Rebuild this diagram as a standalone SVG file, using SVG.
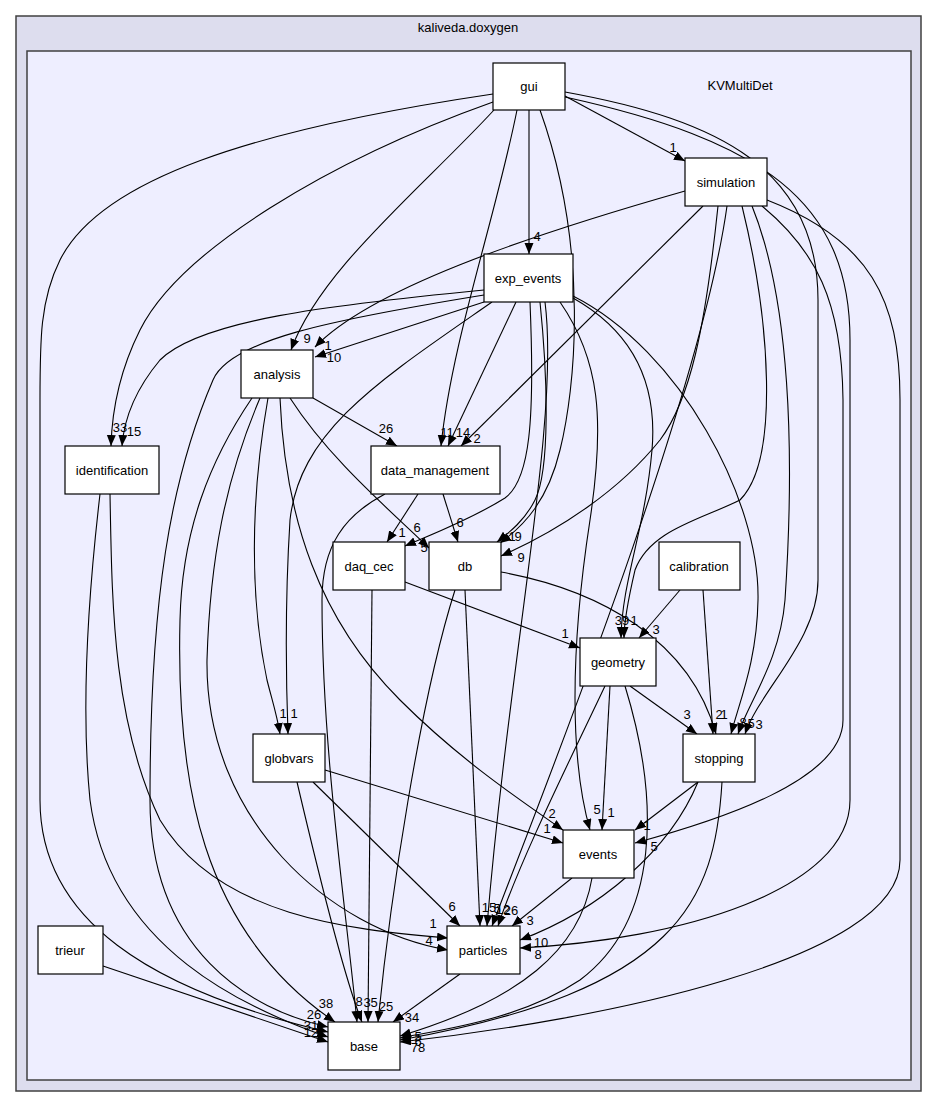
<svg xmlns="http://www.w3.org/2000/svg" width="939" height="1108" viewBox="0 0 939 1108">
<style>
.cl{stroke:#404040;stroke-width:1.5}
.n rect{fill:#fff;stroke:#000;stroke-width:1.2}
.n text,.t{font-family:"Liberation Sans",Arial,sans-serif;font-size:13px;fill:#000;text-anchor:middle}
.e path{fill:none;stroke:#000;stroke-width:1.1;marker-end:url(#a)}
.e text{font-family:"Liberation Sans",Arial,sans-serif;font-size:13px;fill:#000;text-anchor:middle}
</style>
<defs>
<marker id="a" markerUnits="userSpaceOnUse" markerWidth="12" markerHeight="10" refX="11" refY="4.5" orient="auto"><path d="M0,0 L11,4.5 L0,9 z" fill="#000"/></marker>
</defs>
<rect x="0" y="0" width="939" height="1108" fill="#fff"/>
<g id="cluster_kaliveda">
<rect class="cl" x="16" y="16" width="905" height="1075" fill="#ddddee"/>
<text class="t" x="468" y="32">kaliveda.doxygen</text>
</g>
<g id="cluster_KVMultiDet">
<rect class="cl" x="27" y="51" width="884" height="1029" fill="#eeeeff"/>
<text class="t" x="740" y="90">KVMultiDet</text>
</g>
<g id="edges" class="e">
<path d="M565,96 L685,161"/><text x="673" y="152">1</text>
<path d="M529,110 L529,254"/><text x="537" y="241">4</text>
<path d="M494,110 C420,190 320,270 291,350"/><text x="307" y="343">9</text>
<path d="M685,191 C520,238 370,290 315,347"/><text x="328" y="350">1</text>
<path d="M484,302 L315,357"/><text x="334" y="362">10</text>
<path d="M493,102 C330,160 180,250 140,330 C120,370 112,410 111,446"/><text x="120" y="432">33</text>
<path d="M484,290 C330,305 200,320 160,360 C135,390 124,420 122,446"/><text x="134" y="436">15</text>
<path d="M313,398 L397,446"/><text x="386" y="433">26</text>
<path d="M517,110 C495,220 452,340 441,446"/><text x="447" y="437">11</text>
<path d="M516,302 L448,446"/><text x="463" y="437">14</text>
<path d="M703,206 L461,446"/><text x="477" y="443">2</text>
<path d="M418,494 L387,542"/><text x="402" y="537">1</text>
<path d="M530,302 C535,420 530,480 505,498 C470,520 430,535 405,546"/><text x="417" y="532">6</text>
<path d="M290,398 C330,460 390,510 429,548"/><text x="424" y="552">5</text>
<path d="M443,494 L458,542"/><text x="460" y="527">6</text>
<path d="M540,110 C590,250 575,390 560,450 C548,500 525,525 500,543"/><text x="512" y="541">1</text>
<path d="M540,302 C548,380 550,470 535,500 C525,520 510,532 497,542"/><text x="518" y="541">9</text>
<path d="M718,206 C705,330 690,400 660,440 C620,490 560,530 501,556"/><text x="521" y="562">9</text>
<path d="M405,582 L580,648"/><text x="565" y="638">1</text>
<path d="M680,590 L639,638"/><text x="656" y="634">3</text>
<path d="M742,206 C770,320 780,460 740,500 C700,520 650,530 635,570 C628,600 624,620 624,638"/><text x="634" y="625">1</text>
<path d="M573,298 C630,330 658,380 652,450 C645,530 622,580 621,638"/><text x="622" y="625">39</text>
<path d="M560,302 C600,360 605,420 590,520 C570,650 570,760 590,830"/><text x="597" y="814">5</text>
<path d="M727,206 C700,400 540,800 492,926"/>
<path d="M545,302 C560,420 510,650 487,926"/>
<path d="M630,686 L697,734"/><text x="687" y="719">3</text>
<path d="M703,590 L713,734"/><text x="719" y="719">2</text>
<path d="M501,572 C600,590 690,640 716,734"/><text x="724" y="719">1</text>
<path d="M573,296 C680,350 760,500 758,600 C757,660 740,700 731,734"/><text x="743" y="727">8</text>
<path d="M752,206 C790,300 795,450 785,600 C780,660 750,700 738,734"/><text x="751" y="728">5</text>
<path d="M565,92 C720,120 818,170 818,300 L818,580 C818,640 760,690 745,734"/><text x="759" y="729">3</text>
<path d="M610,686 L602,830"/><text x="611" y="817">1</text>
<path d="M280,398 C285,520 320,620 400,700 C460,760 520,800 563,830"/><text x="552" y="818">2</text>
<path d="M325,770 L563,843"/><text x="547" y="833">1</text>
<path d="M698,782 L635,830"/><text x="647" y="830">1</text>
<path d="M762,206 C815,250 842,300 843,400 L843,720 C843,780 720,820 635,843"/><text x="654" y="851">5</text>
<path d="M268,398 C250,500 250,600 267,680 C272,700 277,715 280,734"/><text x="283" y="718">1</text>
<path d="M492,302 C380,380 300,430 290,520 C285,600 286,680 288,734"/><text x="294" y="718">1</text>
<path d="M313,782 L460,926"/><text x="452" y="911">6</text>
<path d="M110,494 C112,600 112,720 160,820 C220,920 360,930 448,938"/><text x="433" y="928">1</text>
<path d="M260,398 C225,480 210,560 207,660 C205,820 330,930 448,950"/><text x="429" y="945">4</text>
<path d="M572,878 L512,926"/><text x="530" y="925">3</text>
<path d="M465,590 L480,926"/><text x="489" y="912">15</text>
<path d="M605,686 C570,760 520,860 498,926"/><text x="511" y="915">26</text>
<text x="497" y="913">5</text><text x="503" y="914">12</text>
<path d="M698,782 C670,850 600,910 520,940"/><text x="541" y="947">10</text>
<path d="M565,97 C760,140 850,200 850,340 L850,800 C850,890 680,940 520,948"/><text x="538" y="959">8</text>
<path d="M460,974 L393,1022"/><text x="412" y="1022">34</text>
<path d="M385,494 C345,515 322,545 322,600 C322,750 345,900 357,1022"/><text x="359" y="1006">8</text>
<path d="M372,590 L368,1022"/><text x="367" y="1007">3</text>
<path d="M455,590 C420,700 390,900 378,1022"/><text x="386" y="1011">25</text>
<path d="M297,782 C320,880 345,980 362,1022"/><text x="374" y="1007">5</text>
<path d="M252,398 C210,460 182,530 180,620 C176,780 200,930 335,1022"/><text x="326" y="1008">38</text>
<path d="M484,295 C330,320 230,340 213,380 C170,480 150,600 150,800 C150,950 250,1010 328,1027"/><text x="314" y="1019">26</text>
<path d="M493,94 C250,130 100,180 60,260 C40,300 40,340 40,400 L40,800 C40,920 150,990 328,1032"/><text x="311" y="1030">31</text>
<path d="M100,494 C90,580 80,700 90,800 C110,950 250,1010 328,1037"/><text x="311" y="1037">12</text>
<path d="M103,966 L328,1042"/>
<path d="M592,878 C580,950 520,1000 400,1036"/><text x="418" y="1041">5</text>
<path d="M625,686 C660,800 660,920 580,980 C520,1020 440,1030 400,1038"/>
<path d="M722,782 C715,900 680,990 400,1040"/><text x="418" y="1046">6</text>
<path d="M767,200 C870,240 900,300 900,400 L900,860 C900,960 600,1020 400,1042"/><text x="418" y="1052">78</text>
</g>
<g id="node_gui" class="n"><rect x="493" y="63" width="72" height="47"/><text x="529" y="91">gui</text></g>
<g id="node_simulation" class="n"><rect x="685" y="158" width="82" height="48"/><text x="726" y="187">simulation</text></g>
<g id="node_exp_events" class="n"><rect x="484" y="254" width="89" height="48"/><text x="528" y="283">exp_events</text></g>
<g id="node_analysis" class="n"><rect x="241" y="350" width="72" height="48"/><text x="277" y="379">analysis</text></g>
<g id="node_identification" class="n"><rect x="65" y="446" width="94" height="48"/><text x="112" y="475">identification</text></g>
<g id="node_data_management" class="n"><rect x="371" y="446" width="129" height="48"/><text x="435" y="475">data_management</text></g>
<g id="node_daq_cec" class="n"><rect x="333" y="542" width="72" height="48"/><text x="369" y="571">daq_cec</text></g>
<g id="node_db" class="n"><rect x="429" y="542" width="72" height="48"/><text x="465" y="571">db</text></g>
<g id="node_calibration" class="n"><rect x="659" y="542" width="81" height="48"/><text x="699" y="571">calibration</text></g>
<g id="node_geometry" class="n"><rect x="580" y="638" width="76" height="48"/><text x="618" y="667">geometry</text></g>
<g id="node_globvars" class="n"><rect x="253" y="734" width="72" height="48"/><text x="289" y="763">globvars</text></g>
<g id="node_stopping" class="n"><rect x="683" y="734" width="72" height="48"/><text x="719" y="763">stopping</text></g>
<g id="node_events" class="n"><rect x="563" y="830" width="71" height="48"/><text x="598" y="859">events</text></g>
<g id="node_trieur" class="n"><rect x="38" y="926" width="65" height="48"/><text x="70" y="955">trieur</text></g>
<g id="node_particles" class="n"><rect x="447" y="926" width="73" height="48"/><text x="483" y="955">particles</text></g>
<g id="node_base" class="n"><rect x="328" y="1022" width="72" height="48"/><text x="364" y="1051">base</text></g>
</svg>
